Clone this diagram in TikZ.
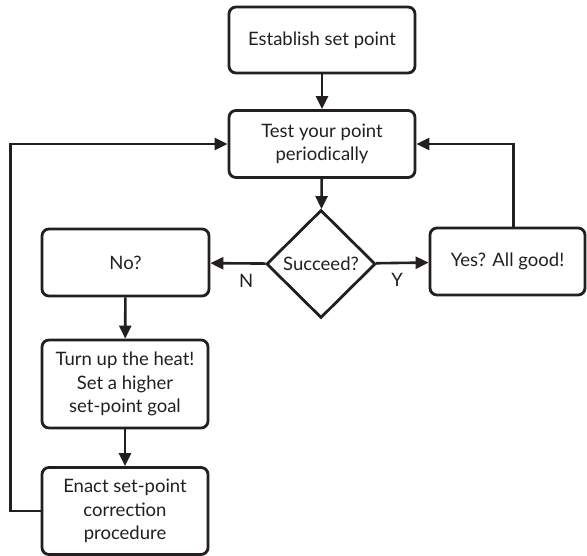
\documentclass[tikz,border=0pt]{standalone}
\usepackage{fontspec}
\setmainfont{Lato}
\usetikzlibrary{shapes.geometric,arrows.meta}
\definecolor{inkcolor}{RGB}{35, 31, 32}

\begin{document}
\begin{tikzpicture}[x=1pt, y=1pt,
        stepbox/.style={draw=inkcolor, line width=2.8pt, rounded corners=7pt, align=center, inner sep=0pt, text=inkcolor, font=\fontsize{18.5}{23.5}\selectfont},
        choice/.style={draw=inkcolor, diamond, line width=2.8pt, inner sep=0pt, minimum width=109pt, minimum height=108pt, text=inkcolor, font=\fontsize{18.5}{23.5}\selectfont},
        link/.style={draw=inkcolor, line width=2.6pt, -{Triangle[length=13pt, width=12pt]}},
        tag/.style={text=inkcolor, font=\fontsize{18.5}{20}\selectfont}]
        \useasboundingbox (0, 0) rectangle (587, 556);
        % Boxes {{{
        \node[stepbox, minimum width=186pt, minimum height=66pt] (setpoint) at (322, 516) {Establish set point};
        \node[stepbox, minimum width=186pt, minimum height=67pt] (test) at (322, 412) {Test your point\\periodically};
        \node[choice] (succeed) at (321, 292) {Succeed?};
        \node[stepbox, minimum width=167pt, minimum height=67pt] (no) at (125.5, 293.5) {No?};
        \node[stepbox, minimum width=155pt, minimum height=67pt] (yes) at (507.5, 294.5) {Yes? All good!};
        \node[stepbox, minimum width=166pt, minimum height=88pt] (heat) at (125, 172) {Turn up the heat!\\Set a higher\\set-point goal};
        \node[stepbox, minimum width=166pt, minimum height=87pt] (enact) at (125, 45) {Enact set-point\\correction\\procedure};
        % }}}
        % Connectors {{{
        \draw[link] (setpoint) -- (test);
        \draw[link] (test) -- (succeed);
        \draw[link] (succeed) -- (no) node[tag, pos=0.35, below=6pt] {N};
        \draw[link] (succeed) -- (yes) node[tag, pos=0.4, below=6pt] {Y};
        \draw[link] (no) -- (heat);
        \draw[link] (heat) -- (enact);
        \draw[link] (enact.west) -- ++(-30, 0) |- (test.west); % Loop back
        \draw[link] ([xshift=6pt]yes.north) |- (test.east); % Loop back
        % }}}
\end{tikzpicture}
\end{document}
